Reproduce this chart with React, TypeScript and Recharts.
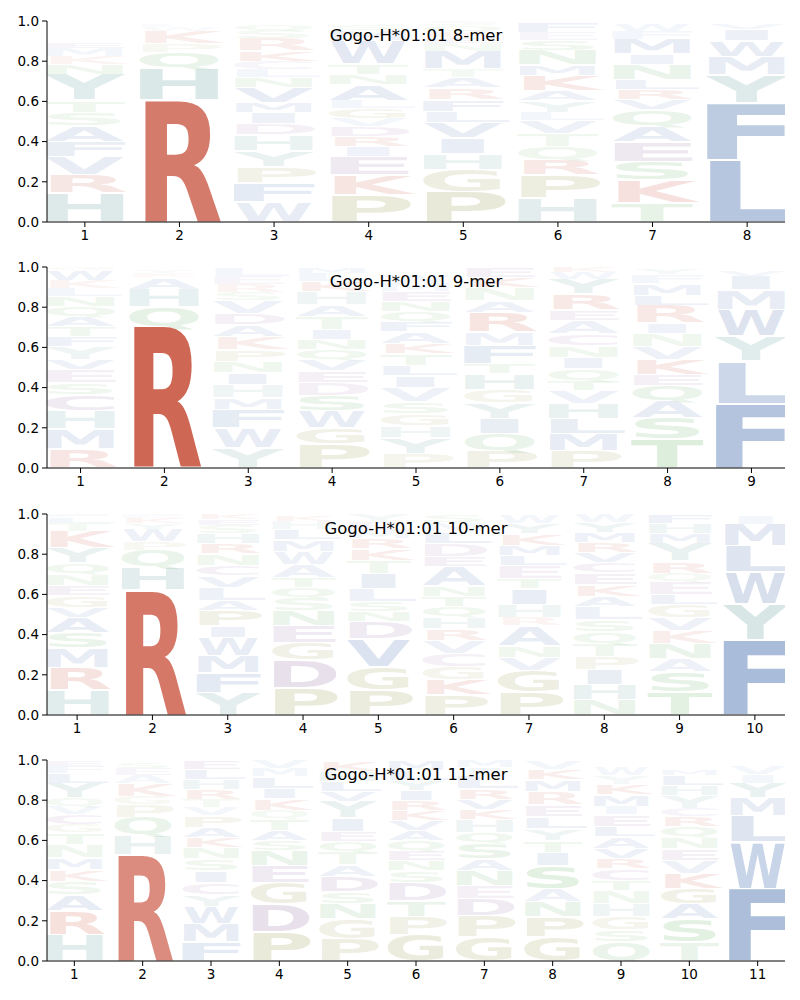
import { BarChart, Bar, XAxis, YAxis } from "recharts";

// letter stacks per position, bottom to top: [residue, frequency]
const mer8: [string, number][][] = [
  [["H", 0.145], ["R", 0.09], ["V", 0.09], ["F", 0.075], ["A", 0.08], ["S", 0.065], ["T", 0.06], ["Y", 0.13], ["N", 0.05], ["K", 0.04], ["M", 0.04], ["E", 0.03]],
  [["R", 0.605], ["H", 0.16], ["Q", 0.08], ["P", 0.04], ["K", 0.065], ["W", 0.02], ["E", 0.015]],
  [["W", 0.1], ["F", 0.095], ["P", 0.08], ["Y", 0.08], ["H", 0.08], ["D", 0.055], ["I", 0.055], ["M", 0.05], ["V", 0.075], ["N", 0.05], ["L", 0.04], ["C", 0.04], ["K", 0.05], ["R", 0.065], ["S", 0.04], ["Q", 0.03]],
  [["P", 0.135], ["K", 0.1], ["E", 0.09], ["I", 0.05], ["R", 0.05], ["D", 0.05], ["V", 0.04], ["G", 0.05], ["L", 0.04], ["A", 0.08], ["N", 0.05], ["T", 0.05], ["W", 0.12], ["M", 0.05], ["S", 0.03]],
  [["P", 0.15], ["G", 0.11], ["H", 0.08], ["I", 0.08], ["V", 0.075], ["L", 0.055], ["F", 0.06], ["R", 0.06], ["A", 0.05], ["T", 0.04], ["M", 0.09], ["N", 0.04], ["E", 0.03], ["K", 0.03], ["Q", 0.03], ["S", 0.02]],
  [["H", 0.12], ["P", 0.115], ["R", 0.075], ["Q", 0.065], ["T", 0.065], ["V", 0.065], ["L", 0.04], ["Y", 0.06], ["A", 0.05], ["K", 0.075], ["M", 0.05], ["N", 0.075], ["S", 0.05], ["E", 0.04], ["F", 0.05]],
  [["T", 0.095], ["K", 0.115], ["S", 0.09], ["E", 0.1], ["A", 0.08], ["Q", 0.08], ["V", 0.05], ["R", 0.05], ["L", 0.05], ["N", 0.075], ["I", 0.05], ["M", 0.075], ["F", 0.04], ["W", 0.035]],
  [["L", 0.31], ["F", 0.28], ["Y", 0.14], ["M", 0.09], ["W", 0.08], ["I", 0.06], ["V", 0.03]],
];

const mer9: [string, number][][] = [
  [["R", 0.095], ["M", 0.1], ["H", 0.09], ["C", 0.08], ["S", 0.06], ["E", 0.065], ["V", 0.05], ["Y", 0.065], ["F", 0.05], ["T", 0.05], ["A", 0.05], ["Q", 0.05], ["N", 0.05], ["L", 0.04], ["K", 0.04], ["W", 0.05], ["G", 0.02]],
  [["R", 0.7], ["Q", 0.1], ["H", 0.09], ["A", 0.06], ["K", 0.02], ["Y", 0.01]],
  [["Y", 0.1], ["W", 0.1], ["F", 0.09], ["M", 0.06], ["H", 0.065], ["I", 0.06], ["N", 0.055], ["P", 0.06], ["K", 0.065], ["A", 0.06], ["D", 0.055], ["V", 0.065], ["S", 0.04], ["R", 0.04], ["E", 0.04], ["L", 0.04]],
  [["P", 0.12], ["G", 0.08], ["W", 0.085], ["S", 0.075], ["D", 0.065], ["E", 0.06], ["V", 0.055], ["Q", 0.05], ["N", 0.05], ["I", 0.05], ["T", 0.065], ["A", 0.06], ["H", 0.065], ["K", 0.05], ["L", 0.04], ["M", 0.03]],
  [["P", 0.07], ["Y", 0.08], ["H", 0.06], ["G", 0.06], ["S", 0.06], ["V", 0.07], ["I", 0.06], ["L", 0.05], ["T", 0.06], ["K", 0.05], ["A", 0.06], ["F", 0.05], ["Q", 0.05], ["N", 0.05], ["E", 0.05], ["M", 0.04], ["W", 0.04]],
  [["P", 0.085], ["Q", 0.085], ["I", 0.075], ["Y", 0.08], ["G", 0.065], ["H", 0.08], ["T", 0.05], ["F", 0.09], ["M", 0.065], ["R", 0.1], ["A", 0.06], ["N", 0.065], ["K", 0.05], ["E", 0.05]],
  [["P", 0.085], ["M", 0.085], ["L", 0.075], ["H", 0.075], ["V", 0.065], ["T", 0.05], ["Q", 0.06], ["I", 0.055], ["N", 0.06], ["C", 0.06], ["A", 0.065], ["E", 0.05], ["R", 0.08], ["Y", 0.075], ["W", 0.035], ["K", 0.025]],
  [["T", 0.145], ["S", 0.105], ["A", 0.085], ["Q", 0.075], ["E", 0.055], ["K", 0.075], ["V", 0.065], ["N", 0.065], ["I", 0.05], ["R", 0.09], ["L", 0.05], ["M", 0.06], ["F", 0.045], ["Y", 0.03]],
  [["F", 0.32], ["L", 0.21], ["Y", 0.125], ["W", 0.13], ["M", 0.1], ["I", 0.07], ["V", 0.03]],
];

const mer10: [string, number][][] = [
  [["H", 0.125], ["R", 0.11], ["M", 0.1], ["S", 0.075], ["A", 0.075], ["V", 0.05], ["G", 0.06], ["E", 0.05], ["N", 0.06], ["Q", 0.05], ["Y", 0.075], ["K", 0.085], ["T", 0.04], ["L", 0.03], ["F", 0.02]],
  [["R", 0.62], ["H", 0.115], ["Q", 0.085], ["P", 0.04], ["W", 0.065], ["Y", 0.03], ["K", 0.025], ["E", 0.02]],
  [["Y", 0.11], ["F", 0.1], ["M", 0.085], ["W", 0.09], ["I", 0.06], ["P", 0.075], ["A", 0.05], ["L", 0.065], ["V", 0.06], ["C", 0.05], ["N", 0.06], ["R", 0.05], ["H", 0.05], ["S", 0.04], ["E", 0.03], ["K", 0.03]],
  [["P", 0.135], ["D", 0.14], ["G", 0.085], ["E", 0.085], ["N", 0.075], ["S", 0.065], ["Q", 0.05], ["T", 0.05], ["A", 0.065], ["W", 0.065], ["M", 0.06], ["L", 0.05], ["H", 0.04], ["K", 0.03]],
  [["P", 0.125], ["G", 0.115], ["V", 0.14], ["D", 0.085], ["N", 0.05], ["S", 0.05], ["L", 0.065], ["I", 0.075], ["T", 0.065], ["K", 0.06], ["R", 0.05], ["M", 0.04], ["E", 0.04], ["Y", 0.04]],
  [["P", 0.1], ["K", 0.075], ["G", 0.065], ["C", 0.065], ["V", 0.065], ["R", 0.06], ["H", 0.06], ["Q", 0.05], ["T", 0.05], ["N", 0.05], ["A", 0.1], ["E", 0.05], ["D", 0.065], ["L", 0.06], ["M", 0.045], ["S", 0.035]],
  [["P", 0.115], ["G", 0.105], ["V", 0.065], ["N", 0.06], ["A", 0.1], ["R", 0.04], ["H", 0.065], ["I", 0.08], ["T", 0.05], ["E", 0.065], ["L", 0.05], ["M", 0.05], ["K", 0.06], ["Y", 0.05], ["W", 0.04]],
  [["N", 0.075], ["H", 0.075], ["I", 0.075], ["P", 0.065], ["T", 0.065], ["Q", 0.06], ["S", 0.06], ["L", 0.065], ["A", 0.05], ["K", 0.06], ["E", 0.06], ["C", 0.05], ["V", 0.05], ["R", 0.05], ["M", 0.05], ["Y", 0.05], ["W", 0.04]],
  [["T", 0.115], ["S", 0.1], ["A", 0.065], ["N", 0.075], ["K", 0.065], ["V", 0.065], ["G", 0.065], ["L", 0.05], ["E", 0.065], ["Q", 0.04], ["R", 0.06], ["Y", 0.09], ["M", 0.05], ["H", 0.05], ["F", 0.05]],
  [["F", 0.375], ["Y", 0.175], ["W", 0.16], ["L", 0.13], ["M", 0.11], ["I", 0.04]],
];

const mer11: [string, number][][] = [
  [["H", 0.13], ["R", 0.12], ["A", 0.08], ["S", 0.065], ["K", 0.06], ["M", 0.06], ["N", 0.065], ["T", 0.06], ["G", 0.04], ["C", 0.05], ["V", 0.04], ["Q", 0.04], ["Y", 0.075], ["L", 0.05], ["F", 0.035], ["E", 0.03]],
  [["R", 0.525], ["H", 0.1], ["Q", 0.09], ["P", 0.065], ["G", 0.04], ["K", 0.065], ["A", 0.04], ["E", 0.035], ["S", 0.025]],
  [["F", 0.095], ["M", 0.09], ["W", 0.085], ["Y", 0.06], ["C", 0.06], ["I", 0.06], ["S", 0.06], ["N", 0.055], ["K", 0.05], ["A", 0.05], ["P", 0.06], ["V", 0.04], ["T", 0.04], ["R", 0.05], ["H", 0.05], ["L", 0.05], ["E", 0.05]],
  [["P", 0.145], ["D", 0.14], ["G", 0.105], ["E", 0.085], ["N", 0.075], ["S", 0.05], ["A", 0.05], ["T", 0.06], ["Q", 0.04], ["K", 0.06], ["I", 0.05], ["L", 0.06], ["M", 0.04], ["V", 0.04]],
  [["P", 0.11], ["G", 0.1], ["N", 0.075], ["S", 0.06], ["D", 0.075], ["A", 0.06], ["T", 0.065], ["Q", 0.05], ["E", 0.05], ["I", 0.065], ["Y", 0.085], ["V", 0.05], ["L", 0.05], ["H", 0.05], ["K", 0.05]],
  [["G", 0.13], ["P", 0.09], ["T", 0.08], ["D", 0.09], ["S", 0.06], ["N", 0.05], ["E", 0.05], ["Q", 0.05], ["A", 0.05], ["V", 0.05], ["K", 0.05], ["R", 0.05], ["I", 0.05], ["Y", 0.05], ["L", 0.05], ["M", 0.05]],
  [["G", 0.12], ["P", 0.105], ["D", 0.085], ["E", 0.065], ["N", 0.075], ["A", 0.06], ["S", 0.08], ["Q", 0.05], ["H", 0.065], ["K", 0.05], ["V", 0.05], ["R", 0.05], ["L", 0.065], ["I", 0.045], ["M", 0.035]],
  [["G", 0.12], ["P", 0.1], ["N", 0.075], ["A", 0.065], ["S", 0.115], ["I", 0.065], ["T", 0.06], ["Y", 0.06], ["L", 0.06], ["E", 0.06], ["R", 0.065], ["M", 0.06], ["K", 0.05], ["V", 0.04]],
  [["Q", 0.095], ["S", 0.06], ["G", 0.065], ["H", 0.065], ["N", 0.065], ["T", 0.05], ["C", 0.06], ["R", 0.05], ["V", 0.05], ["A", 0.06], ["L", 0.05], ["E", 0.06], ["I", 0.04], ["M", 0.06], ["K", 0.05], ["Y", 0.045], ["W", 0.04]],
  [["T", 0.095], ["S", 0.115], ["A", 0.075], ["G", 0.075], ["K", 0.075], ["V", 0.065], ["E", 0.06], ["N", 0.06], ["Q", 0.05], ["R", 0.05], ["C", 0.04], ["Y", 0.065], ["H", 0.05], ["L", 0.05], ["M", 0.025]],
  [["F", 0.36], ["W", 0.23], ["L", 0.13], ["M", 0.09], ["Y", 0.075], ["I", 0.045], ["V", 0.04]],
];

const panels = [
  { title: "Gogo-H*01:01 8-mer", stacks: mer8 },
  { title: "Gogo-H*01:01 9-mer", stacks: mer9 },
  { title: "Gogo-H*01:01 10-mer", stacks: mer10 },
  { title: "Gogo-H*01:01 11-mer", stacks: mer11 },
];

const yTicks = [0, 0.2, 0.4, 0.6, 0.8, 1.0];

// residue colour groups
const RED = "#c8503c";
const TEAL = "#5b9696";
const OLIVE = "#96964a";
const PURPLE = "#8c64a0";
const GREEN = "#5aaa5a";
const BLUE = "#4c72b0";
const colorOf: Record<string, string> = {
  R: RED, K: RED,
  H: TEAL, Y: TEAL,
  P: OLIVE, G: OLIVE,
  D: PURPLE, E: PURPLE, C: PURPLE,
  S: GREEN, T: GREEN, N: GREEN, Q: GREEN,
  A: BLUE, V: BLUE, I: BLUE, L: BLUE, M: BLUE, F: BLUE, W: BLUE,
};

// rough share of the advance width that the bold glyph covers
const inkShare: Record<string, number> = {
  A: 0.95, C: 0.82, D: 0.8, E: 0.74, F: 0.7, G: 0.84, H: 0.76, I: 0.9, K: 0.86, L: 0.74,
  M: 0.82, N: 0.77, P: 0.79, Q: 0.85, R: 0.86, S: 0.84, T: 0.92, V: 0.95, W: 0.96, Y: 0.95,
};

const W = 800;
const H = 246;
const PLOT_L = 47;
const PLOT_R = 785;
const TOP = 21;
const CAP = 72.9; // DejaVu Sans Bold cap height at 100px

const toRows = (stacks: [string, number][][]) =>
  stacks.map((stack, i) => {
    const row: Record<string, any> = { pos: i + 1 };
    stack.forEach(([c, v], k) => {
      row[`c${k}`] = c;
      row[`h${k}`] = v;
    });
    return row;
  });

const renderLetter = (props: any, slot: number) => {
  const { x, y, width, height, payload } = props;
  const ch = payload?.[`c${slot}`];
  const v = payload?.[`h${slot}`];
  if (!ch || !(height > 0.5)) return <g />;
  const pad = Math.min(1, height * 0.05);
  const h = height - 2 * pad;
  const len = width / (inkShare[ch] ?? 0.8);
  const over = (len - width) / 2;
  return (
    <text
      x={0}
      y={0}
      transform={`translate(${x - over},${y + height - pad}) scale(1,${h / CAP})`}
      fontFamily="DejaVu Sans"
      fontWeight="bold"
      fontSize={100}
      textLength={len}
      lengthAdjust="spacingAndGlyphs"
      fill={colorOf[ch]}
      fillOpacity={Math.min(1, 1.2 * v + 0.03)}
    >
      {ch}
    </text>
  );
};

const tickStyle = { fill: "#000", fontSize: 13.5, fontFamily: "DejaVu Sans" };

const LogoPanel = ({ title, stacks }: { title: string; stacks: [string, number][][] }) => {
  const n = stacks.length;
  const rows = toRows(stacks);
  const slots = Math.max(...stacks.map((s) => s.length));
  const unit = (PLOT_R - PLOT_L) / (n - 0.2);
  const xTicks = stacks.map((_, i) => i + 1);
  return (
    <div style={{ position: "relative", width: W, height: H }}>
      <BarChart
        width={W}
        height={H}
        data={rows}
        margin={{ top: TOP, right: W - PLOT_R, left: 0, bottom: 0 }}
        barCategoryGap={0}
      >
        <XAxis
          dataKey="pos"
          type="number"
          domain={[0.6, n + 0.4]}
          ticks={xTicks}
          allowDataOverflow
          height={24}
          tickSize={5}
          tickMargin={3}
          tick={tickStyle}
          stroke="#000"
        />
        <YAxis
          type="number"
          domain={[0, 1]}
          ticks={yTicks}
          allowDataOverflow
          width={PLOT_L}
          tickSize={5}
          tickMargin={3}
          tick={tickStyle}
          tickFormatter={(v: number) => v.toFixed(1)}
          stroke="#000"
        />
        {Array.from({ length: slots }, (_, k) => (
          <Bar
            key={k}
            dataKey={`h${k}`}
            stackId="logo"
            barSize={unit * 0.8}
            isAnimationActive={false}
            shape={(p: any) => renderLetter(p, k)}
          />
        ))}
      </BarChart>
      <div
        style={{
          position: "absolute",
          left: PLOT_L,
          width: PLOT_R - PLOT_L,
          top: 26,
          textAlign: "center",
          fontFamily: "DejaVu Sans",
          fontSize: 16.5,
          color: "#000",
        }}
      >
        {title}
      </div>
    </div>
  );
};

export default function App() {
  return (
    <div style={{ position: "absolute", left: 0, top: 0, width: 800, height: 1000, background: "#fff" }}>
      {panels.map((p, i) => (
        <div key={p.title} style={{ position: "absolute", left: 0, top: Math.round(i * 246.33) }}>
          <LogoPanel title={p.title} stacks={p.stacks} />
        </div>
      ))}
    </div>
  );
}
